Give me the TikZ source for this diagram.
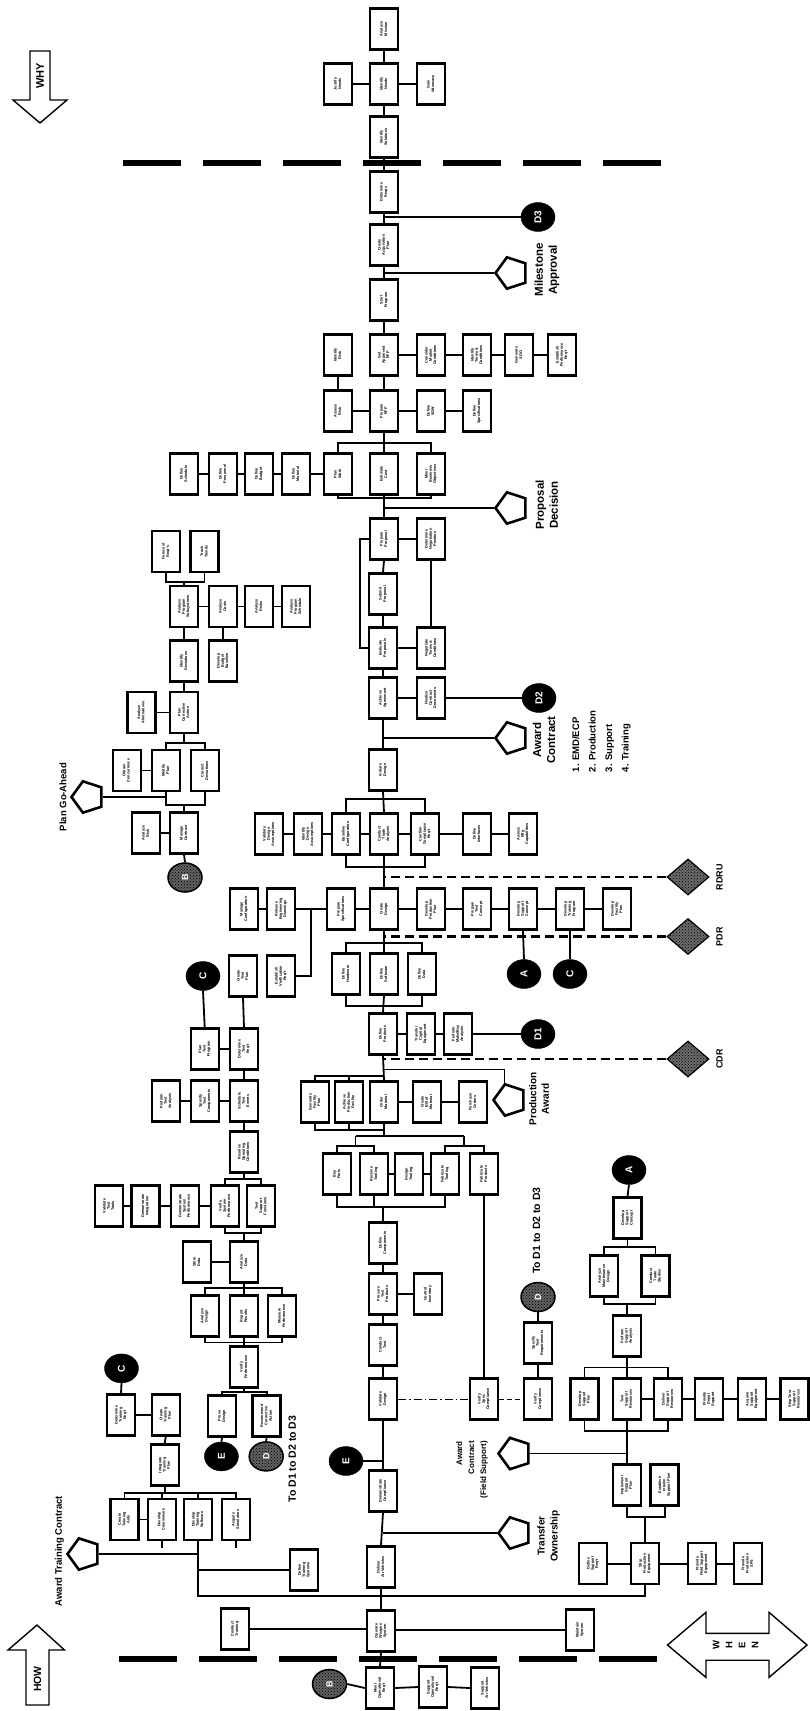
\documentclass[tikz,border=0pt]{standalone}
\usepackage{fontspec}
\setmainfont{Liberation Sans}
\usepackage{graphicx}
\usetikzlibrary{shapes.geometric,patterns,calc}
\newcommand{\bt}[1]{\rotatebox{90}{\begin{tabular}{@{}c@{}}#1\end{tabular}}}
\newcommand{\rt}[1]{\rotatebox{90}{#1}}
\newcommand{\fbx}{\fontsize{3.8}{4.3}\selectfont\bfseries}
\newcommand{\fsz}[2]{\fontsize{#1}{#2}\selectfont\bfseries}
\tikzset{
 fbox/.style={draw, line width=2.3pt, fill=white, minimum width=28pt, minimum height=41pt, inner sep=0pt, font=\fbx},
 ln/.style={line width=1.8pt},
 bigdash/.style={line width=6pt, dash pattern=on 58pt off 22pt},
 mdash/.style={line width=2.6pt, dash pattern=on 9pt off 5pt},
 blk/.style={ellipse, fill=black, draw=black, minimum width=34pt, minimum height=29pt, inner sep=0pt, text=white, font=\fsz{10}{12}},
 hatch/.style={ellipse, draw=black, line width=1.5pt, fill=black!62, minimum width=34pt, minimum height=29pt, inner sep=0pt, text=white, font=\fsz{9}{11}, postaction={pattern=crosshatch dots, pattern color=black}},
 pent/.style={regular polygon, regular polygon sides=5, shape border rotate=90, draw, line width=2.6pt, fill=white, minimum size=33pt, inner sep=0pt},
 dia/.style={diamond, draw, line width=1.2pt, fill=black!58, minimum width=42pt, minimum height=36pt, inner sep=0pt, postaction={pattern=crosshatch dots, pattern color=black}},
 lbl/.style={rotate=90, align=center, inner sep=0pt},
 arrowshape/.style={draw, line width=1.4pt, fill=white},
}
\begin{document}
\begin{tikzpicture}[x=1pt,y=-1pt]
\useasboundingbox (0,0) rectangle (809,1711);
\fill[white] (0,0) rectangle (809,1711);

% big dashed lines
\draw[bigdash] (122.6,162.6) -- (664,162.6);
\draw[bigdash] (119,1659.4) -- (659.4,1659.4);

% WHY / HOW / WHEN arrows
\draw[arrowshape] (30,51) -- (50,51) -- (50,100) -- (67,100) -- (40,123) -- (13,100) -- (30,100) -- cycle;
\node[lbl, font=\fsz{11}{13}] (why) at (40,76) {WHY};
\draw[arrowshape] (37,1625) -- (64.5,1650) -- (49,1650) -- (49,1705) -- (26,1705) -- (26,1650) -- (8,1650) -- cycle;
\node[lbl, font=\fsz{10.5}{13}] (how) at (37.5,1679) {HOW};
\draw[arrowshape] (667.5,1645) -- (706,1612.3) -- (706,1633.4) -- (769,1633.4) -- (769,1612.3) -- (807,1645) -- (769,1677.4) -- (769,1660.2) -- (706,1660.2) -- (706,1677.4) -- cycle;
\node[font=\fsz{9.5}{11}, inner sep=0pt] (w1) at (716,1645) {\rt{W}};
\node[font=\fsz{9.5}{11}, inner sep=0pt] (w2) at (729,1645) {\rt{H}};
\node[font=\fsz{9.5}{11}, inner sep=0pt] (w3) at (742,1645) {\rt{E}};
\node[font=\fsz{9.5}{11}, inner sep=0pt] (w4) at (755,1645) {\rt{N}};

% ---------------- main spine top ----------------
\node[fbox] (s1) at (384,29) {\bt{Analyze\\Mission}};
\node[fbox] (s2l) at (338,84) {\bt{Justify\\Needs}};
\node[fbox] (s2) at (384,84) {\bt{Identify\\Needs}};
\node[fbox] (s2r) at (431,84) {\bt{Gain\\Advocacy}};
\node[fbox] (s3) at (384,137) {\bt{Identify\\Solutions}};
\node[fbox] (s4) at (384,192) {\bt{Determine\\Reqts}};
\node[blk] (d3) at (538,217) {\rt{D3}};
\node[fbox] (s5) at (384,245) {\bt{Create\\Acquisition\\Plan}};
\node[pent] (p1) at (512,273) {};
\node[fbox] (s6) at (384,300) {\bt{Start\\Program}};
\node[fbox] (s7l) at (338,355) {\bt{Identify\\Risk}};
\node[fbox] (s7) at (384,355) {\bt{Get\\Approved\\RFP}};
\node[fbox] (s7a) at (431,355) {\bt{Consider\\Market\\Conditions}};
\node[fbox] (s7b) at (477,355) {\bt{Identify\\Terms \&\\Conditions}};
\node[fbox] (s7c) at (519,355) {\bt{Generate\\SOO}};
\node[fbox] (s7d) at (562,355) {\bt{Establish\\Performance\\Req't}};
\node[fbox] (s8l) at (338,411) {\bt{Assess\\Risk}};
\node[fbox] (s8) at (384,411) {\bt{Prepare\\RFP}};
\node[fbox] (s8a) at (431,411) {\bt{Define\\SOW}};
\node[fbox] (s8b) at (477,411) {\bt{Define\\Specifications}};
\node[fbox] (s9a) at (184,474) {\bt{Define\\Schedule}};
\node[fbox] (s9b) at (223,474) {\bt{Define\\Personnel}};
\node[fbox] (s9c) at (259,474) {\bt{Define\\Budget}};
\node[fbox] (s9d) at (296,474) {\bt{Define\\Material}};
\node[fbox] (s9l) at (338,474) {\bt{Plan\\Work}};
\node[fbox] (s9) at (384,474) {\bt{Estimate\\Cost}};
\node[fbox] (s9r) at (431,474) {\bt{Meet\\Business\\Objectives}};
\node[pent] (p2) at (512,508) {};
\node[fbox] (s10) at (384,539) {\bt{Prepare\\Proposal}};
\node[fbox] (s10r) at (431,539) {\bt{Determine\\Negotiation\\Position}};
\node[fbox] (s11) at (383,594) {\bt{Submit\\Proposal}};
\node[fbox] (s12) at (383,648) {\bt{Evaluate\\Proposals}};
\node[fbox] (s12r) at (431,648) {\bt{Negotiate\\Terms \&\\Conditions}};
\node[fbox] (s13) at (383,698) {\bt{Achieve\\Agreement}};
\node[fbox] (s13r) at (431,698) {\bt{Finalize\\Contract\\Documents}};
\node[blk] (d2) at (539,698) {\rt{D2}};
\node[pent] (p3) at (512,738) {};
\node[fbox] (s14) at (383,770) {\bt{Initiate\\Design}};
\node[fbox] (s15a) at (269,834) {\bt{Validate\\Design\\Assumptions}};
\node[fbox] (s15b) at (308,834) {\bt{Identify\\Design\\Assumptions}};
\node[fbox] (s15l) at (346,834) {\bt{Baseline\\Configuration}};
\node[fbox] (s15) at (384,834) {\bt{Conduct\\Trade\\Analysis}};
\node[fbox] (s15r) at (425,834) {\bt{Confirm\\Compliance\\Req't}};
\node[fbox] (s15c) at (477,834) {\bt{Define\\Interfaces}};
\node[fbox] (s15d) at (523,834) {\bt{Assess\\Mfg\\Capabilities}};
\node[dia] (rdru) at (688,877) {};
\node[fbox] (s16a) at (244,909) {\bt{Manage\\Configuration}};
\node[fbox] (s16b) at (281,909) {\bt{Release\\Engineering\\Drawings}};
\node[fbox] (s16l) at (341,909) {\bt{Prepare\\Specifications}};
\node[fbox] (s16) at (384,909) {\bt{Create\\Design}};
\node[fbox] (s16r1) at (431,909) {\bt{Develop\\Production\\Plan}};
\node[fbox] (s16r2) at (477,909) {\bt{Prepare\\Test\\Concept}};
\node[fbox] (s16r3) at (523,909) {\bt{Develop\\Support\\Concept}};
\node[fbox] (s16r4) at (570,909) {\bt{Develop\\Training\\Program}};
\node[fbox] (s16r5) at (617,909) {\bt{Develop\\Facility\\Plan}};
\node[blk] (cA) at (524,974) {\rt{A}};
\node[blk] (cC2) at (570,974) {\rt{C}};
\node[dia] (pdr) at (688,936.5) {};
\node[fbox] (s17l) at (346,974) {\bt{Define\\Hardware}};
\node[fbox] (s17) at (384,974) {\bt{Define\\Software}};
\node[fbox] (s17r) at (422,974) {\bt{Define\\Data}};
\node[blk] (lC) at (203,976) {\rt{C}};
\node[fbox] (ctp) at (243,976) {\bt{Create\\Test\\Plan}};
\node[fbox] (ev) at (281,976) {\bt{Establish\\Verification\\Req't}};
\node[fbox] (s18) at (383,1034) {\bt{Define\\Products}};
\node[fbox] (s18a) at (421,1034) {\bt{Transfer\\Capital\\Equipment}};
\node[fbox] (s18b) at (458,1034) {\bt{Perform\\Make/Buy\\Analysis}};
\node[blk] (d1) at (538,1034) {\rt{D1}};
\node[dia] (cdr) at (688,1059) {};
\node[pent] (p4) at (510,1100) {};
\node[fbox] (s19a) at (315,1102) {\bt{Generate\\Facility\\Plan}};
\node[fbox] (s19b) at (349,1102) {\bt{Achieve\\Production\\Facility}};
\node[fbox] (s19) at (384,1102) {\bt{Order\\Material}};
\node[fbox] (s19c) at (427,1102) {\bt{Create\\Bill of\\Material}};
\node[fbox] (s19d) at (473,1102) {\bt{Purchase\\Orders}};
\node[fbox] (s20a) at (337,1174) {\bt{Buy\\Parts}};
\node[fbox] (s20b) at (374,1174) {\bt{Receive\\Tooling}};
\node[fbox] (s20c) at (409,1174) {\bt{Design\\Tooling}};
\node[fbox] (s20d) at (445,1174) {\bt{Fabricate\\Tooling}};
\node[fbox] (s20e) at (484,1174) {\bt{Fabricate\\Products}};
\node[fbox] (s21) at (383,1243) {\bt{Define\\Components}};
\node[fbox] (s22) at (383,1294) {\bt{Procure\\Test\\Products}};
\node[fbox] (s22r) at (428,1294) {\bt{Control\\Inventory}};
\node[fbox] (s23) at (383,1345) {\bt{Conduct\\Test}};
\node[fbox] (s24) at (383,1399) {\bt{Validate\\Design}};
\node[fbox] (fs) at (484,1399) {\bt{Verify\\Spec\\Compliance}};
\node[fbox] (vc) at (538,1399) {\bt{Verify\\Compliance}};
\node[fbox] (str) at (538,1343) {\bt{Specify\\Test\\Requirements}};
\node[hatch] (dD) at (538,1297) {\rt{D}};
\node[blk] (eC) at (346,1461) {\rt{E}};
\node[fbox] (s25) at (383,1491) {\bt{Demonstrate\\Compliance}};
\node[pent] (p5) at (515,1533) {};
\node[fbox] (s26) at (381,1567) {\bt{Deliver\\Air Vehicles}};
\node[fbox] (s27) at (381,1631) {\bt{Operate\\Weapon\\System}};
\node[fbox] (ct) at (235,1629) {\bt{Conduct\\Training}};
\node[fbox] (ms) at (580,1630) {\bt{Maintain\\System}};
\node[fbox] (b1) at (380,1688) {\bt{Meet\\Operational\\Req't}};
\node[fbox] (b2) at (433,1687) {\bt{Support\\Operational\\Req't}};
\node[fbox] (b3) at (485,1688) {\bt{Support\\Air Vehicles}};
\node[hatch] (bB) at (329.5,1684) {\rt{B}};

% ---------------- upper-left cluster ----------------
\node[fbox] (fr) at (166,551.5) {\bt{Forecast\\Reqt's}};
\node[fbox] (tt) at (204.5,551.5) {\bt{Track\\Trends}};
\node[fbox] (aps) at (184,606.5) {\bt{Analyze\\Program\\Subsystems}};
\node[fbox] (acs) at (223,606.5) {\bt{Analyze\\Costs}};
\node[fbox] (ars) at (259,606.5) {\bt{Analyze\\Risks}};
\node[fbox] (aps2) at (296,606.5) {\bt{Analyze\\Program\\Schedule}};
\node[fbox] (idv) at (184,661) {\bt{Identify\\Deviations}};
\node[fbox] (dbb) at (223,661) {\bt{Develop\\Budget\\Baseline}};
\node[fbox] (pca) at (184,712.5) {\bt{Plan\\Corrective\\Action}};
\node[fbox] (aal) at (141.4,712.5) {\bt{Analyze\\Alternatives}};
\node[fbox] (ocn) at (126.7,770.5) {\bt{Obtain\\Concurrence}};
\node[fbox] (mpl) at (166,770.5) {\bt{Modify\\Plan}};
\node[fbox] (cdv) at (205,770.5) {\bt{Correct\\Deviations}};
\node[pent] (p7) at (88,797) {};
\node[fbox] (arr) at (146,833) {\bt{Analyze\\Risk}};
\node[fbox] (mct) at (184,833) {\bt{Manage\\Contract}};
\node[hatch] (bB2) at (185,877.5) {\rt{B}};

% ---------------- test cluster ----------------
\node[fbox] (ptp) at (204.7,1049) {\bt{Plan\\Test\\Program}};
\node[fbox] (dtr) at (244,1049) {\bt{Determine\\Test\\Req't}};
\node[fbox] (pta) at (166,1101) {\bt{Perform\\Test\\Analysis}};
\node[fbox] (stc) at (205,1101) {\bt{Specify\\Test\\Components}};
\node[fbox] (ste) at (244,1101) {\bt{Schedule\\Test\\Events}};
\node[fbox] (roc) at (244,1152) {\bt{Resolve\\Operating\\Conditions}};
\node[fbox] (vtt) at (109,1206) {\bt{Validate\\Test\\Tools}};
\node[fbox] (dmi) at (145.4,1206) {\bt{Demonstrate\\Integration}};
\node[fbox] (dsp) at (184.8,1206) {\bt{Demonstrate\\System\\Performance}};
\node[fbox] (vsp) at (225,1206) {\bt{Verify\\System\\Performance}};
\node[fbox] (tsf) at (261.2,1206) {\bt{Test\\Support\\Functions}};
\node[fbox] (sdt) at (197,1262) {\bt{Store\\Data}};
\node[fbox] (adt) at (244,1262) {\bt{Analyze\\Data}};
\node[fbox] (ads) at (204.7,1316) {\bt{Analyze\\Design}};
\node[fbox] (rrs) at (244,1316) {\bt{Report\\Results}};
\node[fbox] (mpf) at (282,1316) {\bt{Measure\\Performance}};
\node[fbox] (vpf) at (244,1367) {\bt{Verify\\Performance}};
\node[fbox] (prd) at (222,1416) {\bt{Prove\\Design}};
\node[fbox] (rca) at (266.6,1416) {\bt{Recommend\\Corrective\\Action}};
\node[blk] (eC2) at (221.4,1456.4) {\rt{E}};
\node[hatch] (lD) at (266.2,1456.4) {\rt{D}};

% ---------------- training cluster ----------------
\node[blk] (tC) at (121.5,1368.4) {\rt{C}};
\node[fbox] (tdr) at (121,1415) {\bt{Determine\\Training\\Req't}};
\node[fbox] (tcp) at (165.8,1415) {\bt{Create\\Training\\Plan}};
\node[fbox] (itp) at (164.7,1465) {\bt{Integrate\\Training\\Plan}};
\node[fbox] (tr1) at (124.4,1519.5) {\bt{Create\\Training\\Aids}};
\node[fbox] (tr2) at (161.7,1519.5) {\bt{Develop\\Courseware}};
\node[fbox] (tr3) at (198,1519.5) {\bt{Develop\\Training\\Software}};
\node[fbox] (tr4) at (236,1519.5) {\bt{Acquire\\Simulators}};
\node[pent] (p6) at (84,1554) {};
\node[fbox] (dts) at (304.2,1570) {\bt{Define\\Training\\Systems}};

% ---------------- support cluster ----------------
\node[blk] (aC) at (629,1170) {\rt{A}};
\node[fbox] (dsc) at (627.5,1218) {\bt{Develop\\Support\\Concept}};
\node[fbox] (amd) at (604.2,1276) {\bt{Analyze\\Maintenance\\Design}};
\node[fbox] (cts) at (655.5,1276) {\bt{Conduct\\Trade\\Studies}};
\node[fbox] (psa) at (626.8,1336) {\bt{Perform\\Support\\Analysis}};
\node[fbox] (sr1) at (584.5,1399) {\bt{Develop\\Support\\Plan}};
\node[fbox] (sr2) at (626.8,1399) {\bt{Test\\Support\\Resources}};
\node[fbox] (sr3) at (668,1399) {\bt{Deliver\\Support\\Resources}};
\node[fbox] (sr4) at (709,1399) {\bt{Provide\\Depot\\Support}};
\node[fbox] (sr5) at (752,1399) {\bt{Acquire\\Support\\Equipment}};
\node[fbox] (sr6) at (794.5,1399) {\bt{Ship Test\\Support\\Resources}};
\node[pent] (p8) at (515,1453.5) {};
\node[fbox] (isp) at (626.8,1485) {\bt{Implement\\Support\\Plan}};
\node[fbox] (eis) at (664.6,1485) {\bt{Establish\\Interim\\Support Plan}};
\node[fbox] (sp1) at (593,1563.6) {\bt{Define\\Support\\Req't}};
\node[fbox] (sp2) at (645,1563.6) {\bt{Ship\\Production\\Equipment}};
\node[fbox] (sp3) at (702,1563.6) {\bt{Provide\\Field Support\\Equipment}};
\node[fbox] (sp4) at (747.8,1563.6) {\bt{Provide\\Production\\SPS}};

% ---------------- levels ----------------
\coordinate (y9t) at (0,443); \coordinate (y9b) at (0,498);
\coordinate (y15t) at (0,799); \coordinate (y15b) at (0,867);
\coordinate (y17t) at (0,943); \coordinate (y17b) at (0,1006);
\coordinate (y19t) at (0,1076); \coordinate (y19b) at (0,1130);
\coordinate (y20a) at (0,1136); \coordinate (y20b) at (0,1146.2); \coordinate (y20c) at (0,1206.7);
\coordinate (j20l) at (355.5,1136); \coordinate (j20r) at (464,1136);
\coordinate (yu1) at (0,582); \coordinate (yu2) at (0,743); \coordinate (yu3) at (0,805);
\coordinate (yt1) at (0,1179); \coordinate (yt2) at (0,1233); \coordinate (yt3) at (0,1288);
\coordinate (yt4) at (0,1342.5); \coordinate (yt5) at (0,1392);
\coordinate (ytr) at (0,1493); \coordinate (ybig) at (0,1596.3);
\coordinate (ys1) at (0,1247); \coordinate (ys2) at (0,1304); \coordinate (ys3) at (0,1367.4);
\coordinate (ys4) at (0,1430.6); \coordinate (ys5) at (0,1516.7);

% ---------------- connectors ----------------
\begin{scope}[ln]
\draw (s1.south) -- (s2.north);
\draw (s2l.east) -- (s2.west); \draw (s2.east) -- (s2r.west);
\draw (s2.south) -- (s3.north); \draw (s3.south) -- (s4.north); \draw (s4.south) -- (s5.north);
\draw (d3.west) -- (d3.west -| s4.south);
\draw (s5.south) -- (s6.north);
\draw (p1.corner 1) -- (p1.corner 1 -| s5.south);
\draw (s6.south) -- (s7.north);
\draw (s7.east) -- (s7a.west); \draw (s7a.east) -- (s7b.west); \draw (s7b.east) -- (s7c.west); \draw (s7c.east) -- (s7d.west);
\draw (s7l.south) -- (s8l.north); \draw (s8l.east) -- (s8.west); \draw (s8.east) -- (s8a.west); \draw (s8a.east) -- (s8b.west);
\draw (s7.south) -- (s8.north);
\draw (s8.south) -- (s9.north);
\draw (s9l.north) -- (s9l.north |- y9t) -- (s9r.north |- y9t) -- (s9r.north);
\draw (s9l.south) -- (s9l.south |- y9b) -- (s9r.south |- y9b) -- (s9r.south);
\draw (s9a.east) -- (s9b.west); \draw (s9b.east) -- (s9c.west); \draw (s9c.east) -- (s9d.west); \draw (s9d.east) -- (s9l.west);
\draw (s9.south) -- (s10.north);
\draw (p2.corner 1) -- (p2.corner 1 -| s9.south);
\draw (s10.east) -- (s10r.west);
\draw (s10.west) -- ++(-9,0) |- (s12.west);
\draw (s10r.south) -- (s12r.north);
\draw (s10.south) -- (s11.north); \draw (s11.south) -- (s12.north);
\draw (s12.east) -- (s12r.west);
\draw (s12.south) -- (s13.north);
\draw (s13.east) -- (s13r.west); \draw (s13r.east) -- (d2.west);
\draw (s13.south) -- (s14.north);
\draw (p3.corner 1) -- (p3.corner 1 -| s13.south);
\draw (s14.south) -- (s15.north);
\draw (s15l.north) -- (s15l.north |- y15t) -- (s15r.north |- y15t) -- (s15r.north);
\draw (s15l.south) -- (s15l.south |- y15b) -- (s15r.south |- y15b) -- (s15r.south);
\draw (s15a.east) -- (s15b.west); \draw (s15b.east) -- (s15l.west); \draw (s15l.east) -- (s15.west);
\draw (s15.east) -- (s15r.west); \draw (s15r.east) -- (s15c.west); \draw (s15c.east) -- (s15d.west);
\draw (s15.south) -- (s16.north);
\draw (s16a.east) -- (s16b.west); \draw (s16b.east) -- (s16l.west); \draw (s16l.east) -- (s16.west);
\draw (s16.east) -- (s16r1.west); \draw (s16r1.east) -- (s16r2.west); \draw (s16r2.east) -- (s16r3.west);
\draw (s16r3.east) -- (s16r4.west); \draw (s16r4.east) -- (s16r5.west);
\draw (ev.east) -| ($(s16b.east)!0.5!(s16l.west)$);
\draw (s16r3.south) -- (cA.north); \draw (s16r4.south) -- (cC2.north);
\draw (s16.south) -- (s17.north);
\draw (s17l.north) -- (s17l.north |- y17t) -- (s17r.north |- y17t) -- (s17r.north);
\draw (s17l.south) -- (s17l.south |- y17b) -- (s17r.south |- y17b) -- (s17r.south);
\draw (s17.south) -- (s18.north);
\draw (s18.east) -- (s18a.west); \draw (s18a.east) -- (s18b.west); \draw (s18b.east) -- (d1.west);
\draw (s18.south) -- (s19.north);
\draw (p4.corner 5) |- ($(s18.south)!0.56!(s19.north)$);
\draw (s19a.north) -- (s19a.north |- y19t) -- (s19.north |- y19t);
\draw (s19b.north) -- (s19b.north |- y19t);
\draw (s19a.south) -- (s19a.south |- y19b) -- (s19.south |- y19b);
\draw (s19b.south) -- (s19b.south |- y19b);
\draw (s19.east) -- (s19c.west); \draw (s19c.east) -- (s19d.west);
\draw (s19.south) -- (s19.south |- y20a);
\draw (j20l) -- (j20r);
\draw (j20l) -- (j20l |- y20b); \draw (j20r) -- (j20r |- y20b);
\draw (s20a.north) -- (s20a.north |- y20b) -- (s20b.north |- y20b) -- (s20b.north);
\draw (s20d.north) -- (s20d.north |- y20b) -- (s20e.north |- y20b) -- (s20e.north);
\draw (s20b.east) -- (s20c.west); \draw (s20c.east) -- (s20d.west);
\draw (s20a.south) -- (s20a.south |- y20c) -- (s20d.south |- y20c) -- (s20d.south);
\draw (s20b.south) -- (s20b.south |- y20c);
\draw (s21.north) -- (s21.north |- y20c);
\draw (s20e.south) -- (fs.north);
\draw (s21.south) -- (s22.north); \draw (s22.east) -- (s22r.west);
\draw (s22.south) -- (s23.north); \draw (s23.south) -- (s24.north);
\draw (vc.north) -- (str.south); \draw (str.north) -- (dD.south);
\draw (s24.south) -- (s25.north);
\draw (eC.east) -- (eC.east -| s25.north);
\draw (s25.south) -- (s26.north);
\draw (p5.corner 1) -- (p5.corner 1 -| s25.south);
\draw (s26.south) -- (s27.north);
\draw (ct.east) -- (ct.east -| s27.west);
\draw (ms.west) -- (ms.west -| s27.east);
\draw (s27.south) -- (b1.north);
\draw (bB.east) -- (b1.west); \draw (b1.east) -- (b2.west); \draw (b2.east) -- (b3.west);

% upper-left
\draw (fr.south) -- (fr.south |- yu1) -- (tt.south |- yu1) -- (tt.south);
\draw (aps.north) -- (aps.north |- yu1);
\draw (aps.east) -- (acs.west); \draw (acs.east) -- (ars.west); \draw (ars.east) -- (aps2.west);
\draw (aps.south) -- (idv.north); \draw (acs.south) -- (dbb.north);
\draw (idv.south) -- (pca.north); \draw (aal.east) -- (pca.west);
\draw (pca.south) -- (pca.south |- yu2);
\draw (mpl.north) -- (mpl.north |- yu2) -- (cdv.north |- yu2) -- (cdv.north);
\draw (ocn.east) -- (mpl.west);
\draw (mpl.south) -- (mpl.south |- yu3) -- (cdv.south |- yu3) -- (cdv.south);
\draw (mct.north) -- (mct.north |- yu3);
\draw (p7.east) -- (p7.east -| mpl.south);
\draw (arr.east) -- (mct.west);
\draw (mct.south) -- (bB2.north);

% test cluster
\draw (lC.south) -- (ptp.north);
\draw (ctp.south) -- (dtr.north);
\draw (ptp.east) -- (dtr.west);
\draw (dtr.south) -- (ste.north);
\draw (pta.east) -- (stc.west); \draw (stc.east) -- (ste.west);
\draw (ste.south) -- (roc.north);
\draw (roc.south) -- (roc.south |- yt1);
\draw (vsp.north) -- (vsp.north |- yt1) -- (tsf.north |- yt1) -- (tsf.north);
\draw (vtt.east) -- (dmi.west); \draw (dmi.east) -- (dsp.west); \draw (dsp.east) -- (vsp.west);
\draw (vsp.south) -- (vsp.south |- yt2) -- (tsf.south |- yt2) -- (tsf.south);
\draw (adt.north) -- (adt.north |- yt2);
\draw (sdt.east) -- (adt.west);
\draw (adt.south) -- (rrs.north);
\draw (ads.north) -- (ads.north |- yt3) -- (mpf.north |- yt3) -- (mpf.north);
\draw (ads.south) -- (ads.south |- yt4) -- (mpf.south |- yt4) -- (mpf.south);
\draw (rrs.south) -- (vpf.north);
\draw (vpf.south) -- (vpf.south |- yt5);
\draw (prd.north) -- (prd.north |- yt5) -- (rca.north |- yt5) -- (rca.north);
\draw (prd.south) -- (eC2.north); \draw (rca.south) -- (lD.north);

% training
\draw (tC.south) -- (tdr.north); \draw (tdr.east) -- (tcp.west); \draw (tcp.south) -- (itp.north);
\draw (itp.south) -- (itp.south |- ytr);
\draw (tr1.north) -- (tr1.north |- ytr) -- (tr4.north |- ytr) -- (tr4.north);
\draw (tr2.north) -- (tr2.north |- ytr); \draw (tr3.north) -- (tr3.north |- ytr);
\draw (tr1.east) -- (tr2.west);
\draw (tr2.south) -- ++(0,7); \draw (tr4.south) -- ++(0,7);
\draw (tr3.south) |- (sp2.south |- ybig) -- (sp2.south);
\draw (p6.east) -- (p6.east -| tr3.south);
\draw (dts.west) -- (dts.west -| tr3.south);

% support
\draw (aC.south) -- (dsc.north);
\draw (dsc.south) -- (dsc.south |- ys1);
\draw (amd.north) -- (amd.north |- ys1) -- (cts.north |- ys1) -- (cts.north);
\draw (amd.south) -- (amd.south |- ys2) -- (cts.south |- ys2) -- (cts.south);
\draw (psa.north) -- (psa.north |- ys2);
\draw (psa.south) -- (sr2.north);
\draw (sr1.north) -- (sr1.north |- ys3) -- (sr3.north |- ys3) -- (sr3.north);
\draw (sr2.east) -- (sr3.west); \draw (sr3.east) -- (sr4.west); \draw (sr4.east) -- (sr5.west); \draw (sr5.east) -- (sr6.west);
\draw (sr1.south) -- (sr1.south |- ys4) -- (sr3.south |- ys4) -- (sr3.south);
\draw (sr2.south) -- (isp.north);
\draw (p8.east) -- (p8.east -| isp.north);
\draw (isp.south) -- (isp.south |- ys5) -- (eis.south |- ys5) -- (eis.south);
\draw (sp2.north) -- (sp2.north |- ys5);
\draw (sp1.east) -- (sp2.west); \draw (sp2.east) -- (sp3.west); \draw (sp3.east) -- (sp4.west);
\end{scope}

% thin dash lines at validate design
\draw[line width=0.8pt, dash pattern=on 8pt off 3pt on 1.5pt off 3pt] (s24.east) -- (fs.west);
\draw[line width=0.8pt, dash pattern=on 5pt off 3pt] (fs.east) -- (vc.west);

% review dashed lines
\draw[mdash] (rdru.west) -- (rdru.west -| s16.north);
\draw[mdash] (pdr.west) -- (pdr.west -| s16.south);
\draw[mdash] (cdr.west) -- (cdr.west -| s18.south);

% ---------------- labels ----------------
\node[lbl, font=\fsz{11.5}{14}] (lm) at (546.8,270) {Milestone\\Approval};
\node[lbl, font=\fsz{11.5}{14}] (lp) at (546.8,505) {Proposal\\Decision};
\node[lbl, font=\fsz{11.5}{14}] (la) at (544,740) {Award\\Contract};
\node[rotate=90, anchor=north west, align=left, inner sep=0pt, font=\fsz{9.5}{16.5}] (llist) at (572,772.4) {1. EMD/ECP\\2. Production\\3. Support\\4. Training};
\node[lbl, font=\fsz{10}{12.5}] (lpa) at (539,1099) {Production\\Award};
\node[lbl, font=\fsz{10}{13}] (lto) at (548.6,1536) {Transfer\\Ownership};
\node[rotate=90, anchor=east, align=right, inner sep=0pt, font=\fsz{8}{12}] (lfs) at (472,1441) {Award\\Contract\\(Field Support)};
\node[lbl, font=\fsz{9.5}{12}] (latc) at (59.5,1551) {Award Training Contract};
\node[lbl, font=\fsz{9.5}{12}] (lpg) at (63,797) {Plan Go-Ahead};
\node[lbl, font=\fsz{10.5}{12}] (ld1) at (292.2,1459) {To D1 to D2 to D3};
\node[lbl, font=\fsz{10.5}{12}] (ld2) at (536.4,1230.6) {To D1 to D2 to D3};
\node[lbl, font=\fsz{9}{11}] (lr) at (719.5,877) {RDRU};
\node[lbl, font=\fsz{9}{11}] (lpd) at (719.5,936.5) {PDR};
\node[lbl, font=\fsz{9}{11}] (lc) at (719.5,1059) {CDR};
\end{tikzpicture}
\end{document}
